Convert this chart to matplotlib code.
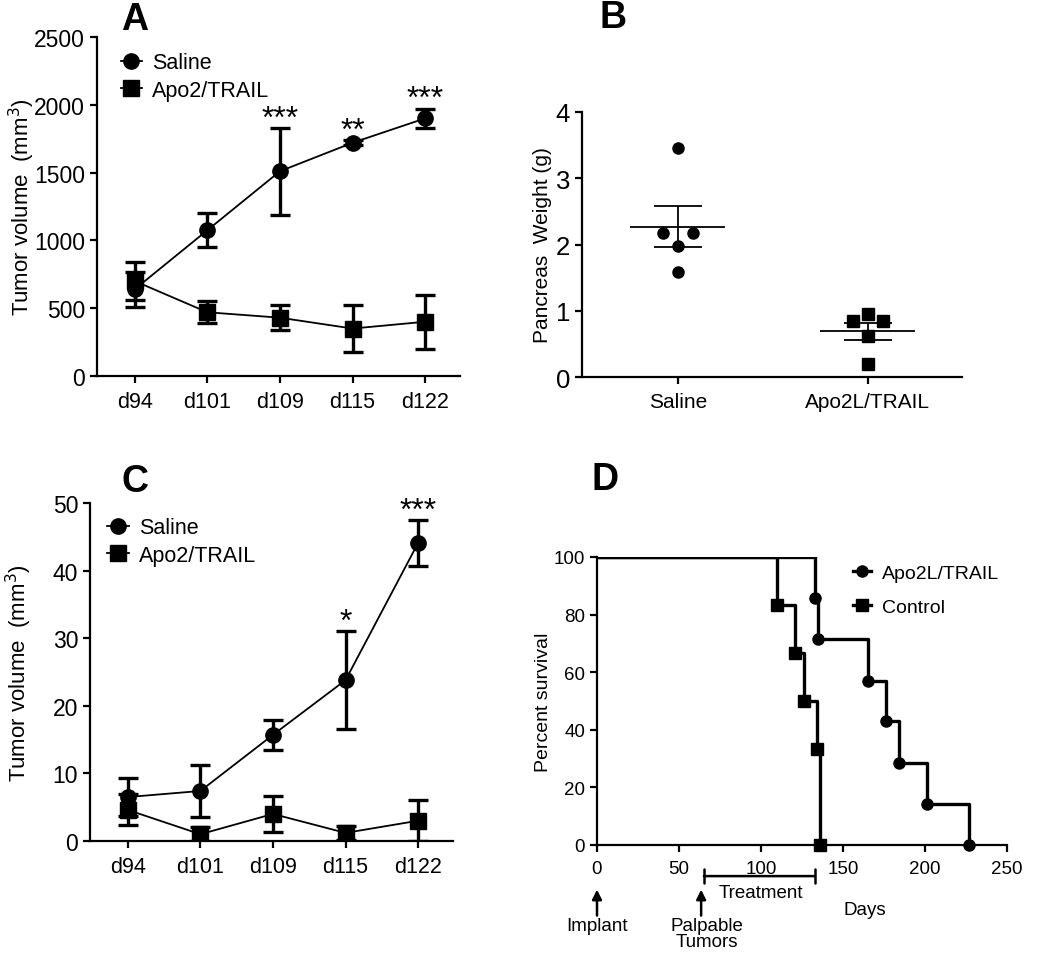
import matplotlib
matplotlib.use("Agg")
import matplotlib.pyplot as plt
from matplotlib.lines import Line2D
import numpy as np

plt.rcParams['font.family'] = ['Liberation Sans', 'DejaVu Sans']

# ---- data ----
days = ["d94", "d101", "d109", "d115", "d122"]

# panel A: tumor volume (mm3)
a_saline = [640, 1075, 1510, 1720, 1900]
a_saline_err = [130, 125, 320, 20, 72]
a_trail = [700, 470, 430, 350, 400]
a_trail_err = [140, 80, 90, 175, 200]
a_stars = {2: "***", 3: "**", 4: "***"}

# panel B: pancreas weight (g)
b_groups = ["Saline", "Apo2L/TRAIL"]
b_saline = [3.45, 2.17, 2.17, 1.97, 1.58]
b_trail = [0.95, 0.85, 0.85, 0.62, 0.20]
b_jitter = [0.0, -0.08, 0.08, 0.0, 0.0]
b_mean = [2.27, 0.69]
b_sem = [0.31, 0.13]

# panel C: tumor volume (mm3)
c_saline = [6.5, 7.4, 15.7, 23.8, 44.1]
c_saline_err = [2.8, 3.9, 2.2, 7.2, 3.4]
c_trail = [4.6, 1.0, 4.0, 1.2, 3.0]
c_trail_err = [2.3, 1.0, 2.7, 1.0, 3.0]
c_stars = {3: "*", 4: "***"}

# panel D: survival
d_trail_t = [0, 133, 135, 165, 176, 184, 201, 227]
d_trail_s = [100, 85.7, 71.4, 57.1, 42.9, 28.6, 14.3, 0]
d_ctrl_t = [0, 110, 121, 126, 134, 136]
d_ctrl_s = [100, 83.3, 66.7, 50, 33.3, 0]

W, H = 1050, 954
fig = plt.figure(figsize=(W / 100, H / 100), dpi=100)


def axes_px(l, r, b, t):
    return fig.add_axes([l / W, 1 - b / H, (r - l) / W, (b - t) / H])


def style(ax, fx, fy):
    for s in ("top", "right"):
        ax.spines[s].set_visible(False)
    for s in ("left", "bottom"):
        ax.spines[s].set_linewidth(1.6)
    ax.tick_params(width=1.6, length=5, direction="out")
    ax.tick_params(axis="x", labelsize=fx, pad=6)
    ax.tick_params(axis="y", labelsize=fy)


def growth_panel(ax, sal, sal_e, tr, tr_e, stars, ymax, step, leg_xy, lab_x):
    x = np.arange(len(days))
    ax.errorbar(x, sal, yerr=sal_e, fmt="-o", color="black", lw=1.3, ms=11,
                elinewidth=2.4, capsize=7, capthick=2.4, zorder=3)
    ax.errorbar(x, tr, yerr=tr_e, fmt="-s", color="black", lw=1.3, ms=11,
                elinewidth=2.4, capsize=7, capthick=2.4, zorder=3)
    for i, s in stars.items():
        ax.annotate(s, (x[i], sal[i] + sal_e[i]), xytext=(0, 1),
                    textcoords="offset points", ha="center", va="baseline",
                    fontsize=23)
    ax.set_xlim(-0.52, 4.48)
    ax.set_ylim(0, ymax)
    ax.set_yticks(np.arange(0, ymax + 1, step))
    ax.set_xticks(x)
    ax.set_xticklabels(days)
    ax.set_ylabel("Tumor volume  (mm$^3$)", fontsize=16)
    ax.yaxis.set_label_coords(lab_x, 0.5)
    style(ax, 15.5, 16.5)
    hs = [Line2D([], [], color="black", lw=1.3, marker="o", ms=11),
          Line2D([], [], color="black", lw=1.3, marker="s", ms=11)]
    ax.legend(hs, ["Saline", "Apo2/TRAIL"], loc="upper left",
              bbox_to_anchor=leg_xy, frameon=False, fontsize=15.5,
              handlelength=1.0, handletextpad=0.45, borderpad=0,
              borderaxespad=0, labelspacing=0.3)


# ---- A ----
axA = axes_px(97, 460, 377, 38)
growth_panel(axA, a_saline, a_saline_err, a_trail, a_trail_err, a_stars,
             2500, 500, (0.065, 0.955), -0.165)

# ---- C ----
axC = axes_px(90, 453, 842, 504)
growth_panel(axC, c_saline, c_saline_err, c_trail, c_trail_err, c_stars,
             50, 10, (0.048, 0.958), -0.155)

# ---- B ----
axB = axes_px(582, 962, 378, 113)
xs = np.array(b_jitter)
axB.plot(0 + xs, b_saline, "o", color="black", ms=8, zorder=3)
axB.plot(1 + xs, b_trail, "s", color="black", ms=8, zorder=3)
for i in range(2):
    axB.hlines(b_mean[i], i - 0.25, i + 0.25, color="black", lw=1.3)
    axB.errorbar(i, b_mean[i], yerr=b_sem[i], fmt="none", ecolor="black",
                 elinewidth=1.3, capsize=17, capthick=1.3)
axB.set_xlim(-0.505, 1.495)
axB.set_ylim(0, 4)
axB.set_yticks([0, 1, 2, 3, 4])
axB.set_xticks([0, 1])
axB.set_xticklabels(b_groups)
axB.set_ylabel("Pancreas  Weight (g)", fontsize=15)
axB.yaxis.set_label_coords(-0.08, 0.5)
style(axB, 15, 18.5)

# ---- D ----
axD = axes_px(597, 1007, 846, 558)
axD.step(d_trail_t, d_trail_s, where="post", color="black", lw=2.4)
axD.step(d_ctrl_t, d_ctrl_s, where="post", color="black", lw=2.4)
axD.plot(d_trail_t[1:], d_trail_s[1:], "o", color="black", ms=8, clip_on=False)
axD.plot(d_ctrl_t[1:], d_ctrl_s[1:], "s", color="black", ms=8, clip_on=False)
axD.set_xlim(0, 250)
axD.set_ylim(0, 100)
axD.set_xticks(np.arange(0, 251, 50))
axD.set_yticks(np.arange(0, 101, 20))
axD.set_ylabel("Percent survival", fontsize=14)
axD.yaxis.set_label_coords(-0.11, 0.5)
style(axD, 13.5, 13.5)
hD = [Line2D([], [], color="black", lw=2.4, marker="o", ms=8),
      Line2D([], [], color="black", lw=2.4, marker="s", ms=8)]
axD.legend(hD, ["Apo2L/TRAIL", "Control"], loc="upper left",
           bbox_to_anchor=(0.625, 0.975), frameon=False, fontsize=14,
           handlelength=0.9, handletextpad=0.6, labelspacing=0.85,
           borderpad=0, borderaxespad=0)

# treatment bar + arrows under D
ann = dict(fontsize=13.5, ha="center", clip_on=False)
axD.annotate("", xy=(63.5, -10.8), xytext=(134.5, -10.8),
             arrowprops=dict(arrowstyle="|-|", lw=1.8, mutation_scale=5),
             annotation_clip=False)
axD.text(100, -13.5, "Treatment", va="top", **ann)
for xa in (0, 63.5):
    axD.annotate("", xy=(xa, -15.5), xytext=(xa, -24.5),
                 arrowprops=dict(arrowstyle="-|>", lw=1.8, color="black",
                                 mutation_scale=14, shrinkA=0, shrinkB=0),
                 annotation_clip=False)
axD.text(0, -25, "Implant", va="top", **ann)
axD.text(67, -25, "Palpable\nTumors", va="top", linespacing=0.95, **ann)
axD.text(163, -19.5, "Days", va="top", **ann)

# panel letters
for lbl, px, py in (("A", 135, 20), ("B", 613, 18), ("C", 135, 482), ("D", 605, 480)):
    fig.text(px / W, 1 - py / H, lbl, fontsize=27, fontweight="bold",
             ha="center", va="center")

fig.savefig("out.png", dpi=100)
